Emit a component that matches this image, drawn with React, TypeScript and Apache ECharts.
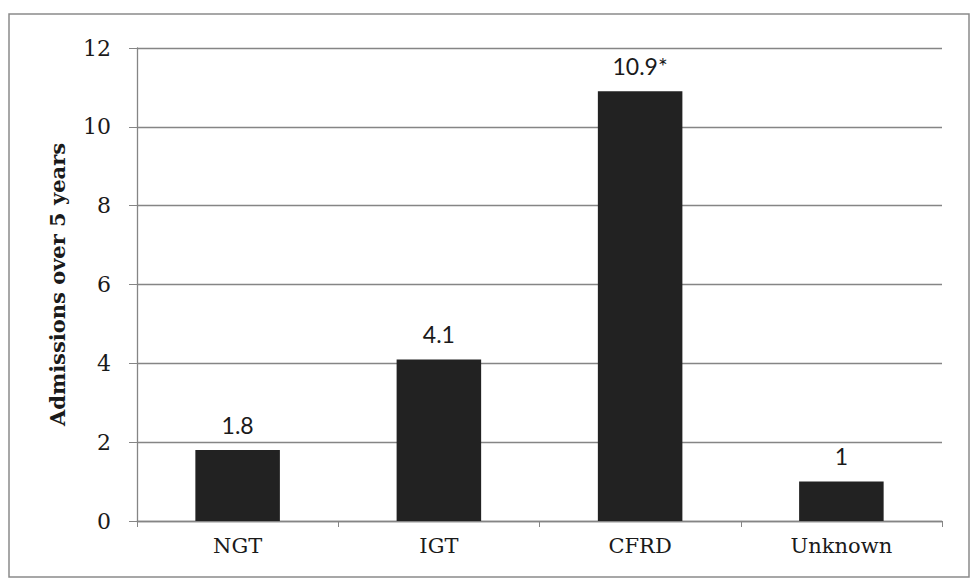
import React, { useEffect, useRef } from "react";
import * as echarts from "echarts";

const categories = ["NGT", "IGT", "CFRD", "Unknown"];
const values = [1.8, 4.1, 10.9, 1];
const valueLabels = ["1.8", "4.1", "10.9*", "1"];
const yTicks = { min: 0, max: 12, interval: 2 };
const yAxisTitle = "Admissions over 5 years";

export default function App() {
  const ref = useRef<HTMLDivElement>(null);
  useEffect(() => {
    const chart = echarts.init(ref.current!, undefined, { renderer: "svg" });
    const font = "'DejaVu Serif', 'Liberation Serif', serif";
    chart.setOption({
      animation: false,
      backgroundColor: "#ffffff",
      graphic: [
        {
          type: "rect",
          shape: { x: 9, y: 14, width: 960, height: 563 },
          style: { fill: "none", stroke: "#8a8a8a", lineWidth: 1.5 },
          silent: true,
        },
      ],
      grid: { left: 137, right: 31, top: 48, bottom: 59 },
      xAxis: {
        type: "category",
        data: categories,
        axisLine: { lineStyle: { color: "#858585", width: 1.3 } },
        axisTick: { show: true, alignWithLabel: false, length: 6, lineStyle: { color: "#858585" } },
        axisLabel: { color: "#1a1a1a", fontFamily: font, fontSize: 21, margin: 14 },
      },
      yAxis: {
        type: "value",
        min: yTicks.min,
        max: yTicks.max,
        interval: yTicks.interval,
        name: yAxisTitle,
        nameLocation: "middle",
        nameGap: 69,
        nameTextStyle: { color: "#1a1a1a", fontFamily: font, fontSize: 21, fontWeight: "bold" },
        axisLine: { show: true, lineStyle: { color: "#858585", width: 1.3 } },
        axisTick: { show: true, length: 8, lineStyle: { color: "#858585" } },
        axisLabel: { color: "#1a1a1a", fontFamily: font, fontSize: 22, margin: 26 },
        splitLine: { lineStyle: { color: "#858585", width: 1.3 } },
      },
      series: [
        {
          type: "bar",
          data: values,
          barWidth: "42%",
          itemStyle: { color: "#222222" },
          label: {
            show: true,
            position: "top",
            distance: 14,
            color: "#1a1a1a",
            fontFamily: "Lato, 'Open Sans', sans-serif",
            fontSize: 23,
            formatter: (p: any) => valueLabels[p.dataIndex],
          },
        },
      ],
    });
    return () => chart.dispose();
  }, []);
  return <div ref={ref} style={{ width: 973, height: 580, position: "absolute", left: 0, top: 0 }} />;
}
